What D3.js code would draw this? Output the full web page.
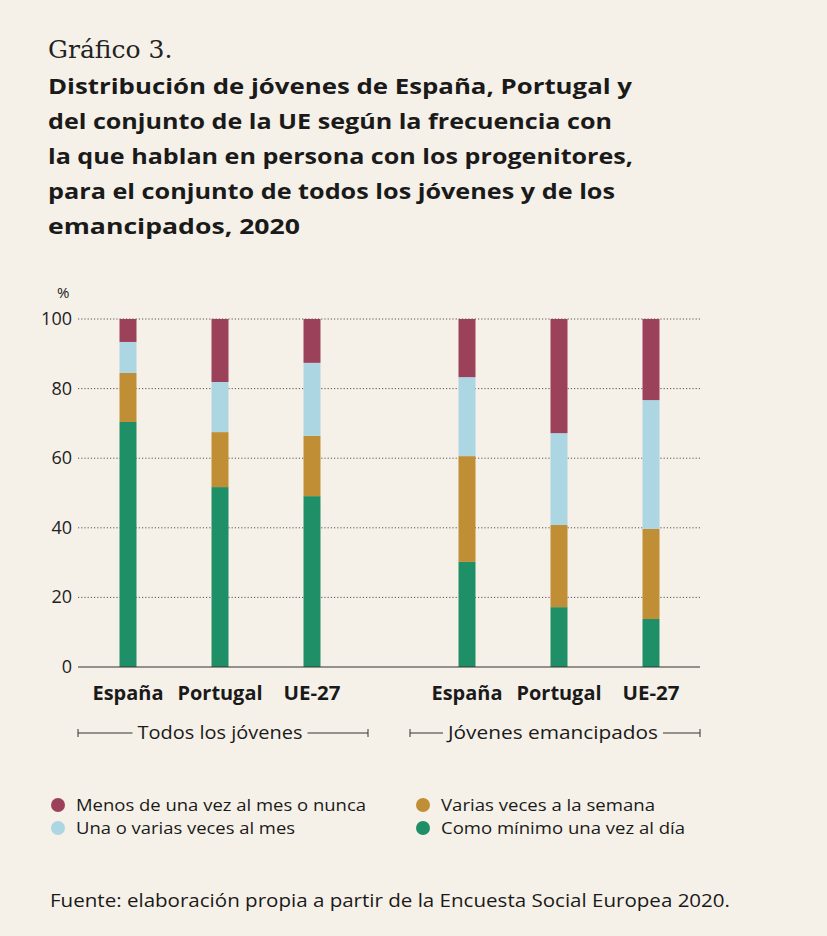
<!DOCTYPE html><html><head><meta charset="utf-8">
<script src="https://cdn.jsdelivr.net/npm/d3@7"></script>
<style>body{margin:0;background:#f6f1e8}</style></head><body>
<script>
const categories=["España","Portugal","UE-27"];
const groups=["Todos los jóvenes","Jóvenes emancipados"];
const seriesNames=["Como mínimo una vez al día","Varias veces a la semana","Una o varias veces al mes","Menos de una vez al mes o nunca"];
const colors=["#1f8f68","#c08f35","#acd6e2","#9b4159"];
const diario=[70.4,51.7,49.1,30.2,17.2,13.8];
const semana=[14.1,15.8,17.3,30.4,23.6,25.9];
const mes=[8.9,14.4,21.0,22.7,26.4,37.0];
const nunca=[6.6,18.1,12.6,16.7,32.8,23.3];
const yTicks=[0,20,40,60,80,100];
const W=827,H=936;
const svg=d3.select("body").append("svg").attr("width",W).attr("height",H).style("font-family","'Open Sans', Lato, sans-serif");
svg.append("rect").attr("width",W).attr("height",H).attr("fill","#f6f1e8");
function fit(t,len){t.attr("textLength",len).attr("lengthAdjust","spacingAndGlyphs");return t;}
svg.append("text").attr("x",48).attr("y",58).attr("font-family","'DejaVu Serif', 'Liberation Serif', serif").attr("font-size",25).attr("fill","#222").text("Gráfico 3.");
const tl=["Distribución de jóvenes de España, Portugal y","del conjunto de la UE según la frecuencia con","la que hablan en persona con los progenitores,","para el conjunto de todos los jóvenes y de los","emancipados, 2020"];
const tw=[584,564,585,567,252];
tl.forEach((t,i)=>fit(svg.append("text").attr("x",48).attr("y",94+i*35).attr("font-size",22).attr("font-weight","bold").attr("fill","#1a1a1a").text(t),tw[i]));
const y=d3.scaleLinear().domain([0,100]).range([667,319]);
const x0=d3.scaleBand().domain(categories).range([82,358]);
const x1=d3.scaleBand().domain(categories).range([421,697]);
const xs=[x0,x1];
svg.append("text").attr("x",57).attr("y",298).attr("font-size",15).attr("fill","#222").text("%");
yTicks.forEach(t=>{
 if(t>0)svg.append("line").attr("x1",78).attr("x2",700).attr("y1",y(t)).attr("y2",y(t)).attr("stroke","#555").attr("stroke-dasharray","1.2,2");
 svg.append("text").attr("x",72).attr("y",y(t)+6).attr("text-anchor","end").attr("font-size",18).attr("fill","#222").text(t);
});
const series=[diario,semana,mes,nunca];
const bw=17, cw=[71,85,57];
for(let i=0;i<6;i++){
 const g=Math.floor(i/3),c=categories[i%3];
 const cx=xs[g](c)+xs[g].bandwidth()/2;
 let base=0;
 series.forEach((s,k)=>{
  svg.append("rect").attr("x",cx-bw/2).attr("width",bw).attr("y",y(base+s[i])).attr("height",y(base)-y(base+s[i])).attr("fill",colors[k]);
  base+=s[i];
 });
 fit(svg.append("text").attr("x",cx).attr("y",700).attr("text-anchor","middle").attr("font-size",19).attr("font-weight","bold").attr("fill","#1a1a1a").text(c),cw[i%3]);
}
svg.append("line").attr("x1",78).attr("x2",700).attr("y1",667).attr("y2",667).attr("stroke","#333").attr("stroke-width",1.2);
[[78,368,220,165],[410,700,553,210]].forEach((r,i)=>{
 fit(svg.append("text").attr("x",r[2]).attr("y",739).attr("text-anchor","middle").attr("font-size",18).attr("fill","#1a1a1a").text(groups[i]),r[3]);
 const w=r[3]/2+5;
 [[r[0],r[2]-w],[r[2]+w,r[1]]].forEach(s=>svg.append("line").attr("x1",s[0]).attr("x2",s[1]).attr("y1",733).attr("y2",733).attr("stroke","#333"));
 [r[0],r[1]].forEach(xx=>svg.append("line").attr("x1",xx).attr("x2",xx).attr("y1",729).attr("y2",737).attr("stroke","#333"));
});
const leg=[[3,58,805,290],[1,423,805,214],[2,58,828,219],[0,423,828,244]];
leg.forEach(l=>{
 svg.append("circle").attr("cx",l[1]).attr("cy",l[2]).attr("r",7).attr("fill",colors[l[0]]);
 fit(svg.append("text").attr("x",l[1]+18).attr("y",l[2]+6).attr("font-size",17).attr("fill","#1a1a1a").text(seriesNames[l[0]]),l[3]);
});
fit(svg.append("text").attr("x",50).attr("y",907).attr("font-size",18.5).attr("fill","#1a1a1a").text("Fuente: elaboración propia a partir de la Encuesta Social Europea 2020."),680);
</script></body></html>
